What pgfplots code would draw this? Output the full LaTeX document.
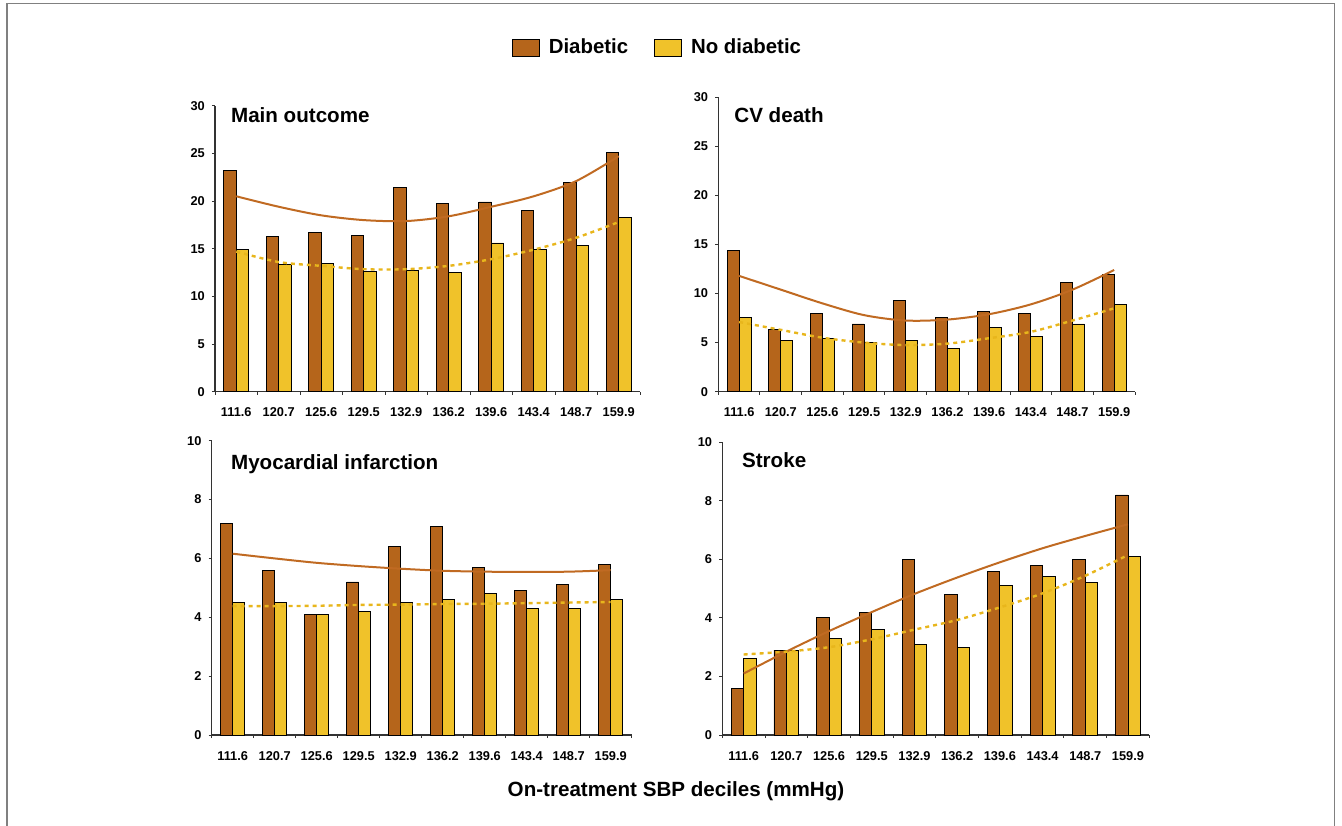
\documentclass[border=0pt]{standalone}
\usepackage{fontspec}
\setmainfont{Liberation Sans}
\usepackage{pgfplots}
\pgfplotsset{compat=1.18}
\definecolor{diab}{HTML}{B5651B}
\definecolor{nodiab}{HTML}{F0C22A}
\definecolor{diabline}{HTML}{C06A22}
\definecolor{nodiabline}{HTML}{E8B61C}
\definecolor{axgray}{HTML}{333333}

\pgfplotsset{
  panel/.style={
    scale only axis,
    anchor=south west,
    axis x line=bottom, axis y line=left,
    axis line style={-, axgray, line width=0.6pt},
    xmin=0.5, xmax=10.5, ymin=0,
    clip=false,
    tick align=outside,
    major tick length=1.6pt,
    tick style={axgray, line width=0.5pt},
    xtick={0.5,1.5,...,10.5},
    xticklabels={},
    extra x ticks={1,2,...,10},
    extra x tick labels={111.6,120.7,125.6,129.5,132.9,136.2,139.6,143.4,148.7,159.9},
    extra x tick style={major tick length=0pt, xticklabel style={yshift=-4.6pt}},
    ticklabel style={font=\bfseries\fontsize{6.4}{7}\selectfont, text=black},
    /pgf/number format/assume math mode=true,
  },
  diabbar/.style={ybar, bar width=0.29, bar shift=-0.145, fill=diab, draw=black, line width=0.45pt,
    legend image code/.code={\draw[fill=diab,draw=black,line width=0.45pt] (0pt,-4.25pt) rectangle (13.5pt,4.25pt);}},
  nodiabbar/.style={ybar, bar width=0.29, bar shift=0.145, fill=nodiab, draw=black, line width=0.45pt,
    legend image code/.code={\draw[fill=nodiab,draw=black,line width=0.45pt] (0pt,-4.25pt) rectangle (13.5pt,4.25pt);}},
  diabfit/.style={smooth, diabline, line width=1pt, forget plot},
  nodiabfit/.style={smooth, nodiabline, line width=1.2pt, dash pattern=on 2pt off 2pt, forget plot},
}

\begin{document}
\begin{tikzpicture}[x=0.5pt,y=0.5pt]
\useasboundingbox (0,0) rectangle (1342,825);
\draw[gray, line width=0.6pt] (7,-2) -- (7,821.5) -- (1334.5,821.5) -- (1334.5,-2);

% Panel 1: Main outcome
\begin{axis}[panel, at={(107.5pt,216.65pt)}, width=212.5pt, height=143pt,
  ymax=30, ytick={0,5,...,30},
  legend columns=2,
  legend style={at={(1.0435,1.2035)}, anchor=center, draw=none, fill=none,
    font=\bfseries\fontsize{10.2}{12}\selectfont,
    /tikz/every even column/.append style={column sep=11pt}},
]
\addplot[diabbar] coordinates {(1,23.2) (2,16.3) (3,16.7) (4,16.4) (5,21.4) (6,19.7) (7,19.9) (8,19.0) (9,21.9) (10,25.1)};
\addlegendentry{\hspace{2.5pt}Diabetic}
\addplot[nodiabbar] coordinates {(1,14.9) (2,13.3) (3,13.5) (4,12.6) (5,12.7) (6,12.5) (7,15.6) (8,14.9) (9,15.3) (10,18.3)};
\addlegendentry{\hspace{2.5pt}No diabetic}
\addplot[diabfit] coordinates {(1,20.5) (2,19.4) (3,18.5) (4,18.0) (5,17.9) (6,18.4) (7,19.4) (8,20.5) (9,22.1) (10,24.7)};
\addplot[nodiabfit] coordinates {(1,14.7) (2,13.6) (3,13.2) (4,12.85) (5,12.85) (6,13.2) (7,13.9) (8,14.9) (9,16.15) (10,17.8)};
\end{axis}

% Panel 2: CV death
\begin{axis}[panel, at={(359.15pt,216.65pt)}, width=208.35pt, height=147.2pt,
  ymax=30, ytick={0,5,...,30}]
\addplot[diabbar] coordinates {(1,14.4) (2,6.3) (3,8.0) (4,6.9) (5,9.3) (6,7.6) (7,8.2) (8,8.0) (9,11.1) (10,11.9)};
\addplot[nodiabbar] coordinates {(1,7.6) (2,5.2) (3,5.4) (4,5.0) (5,5.2) (6,4.4) (7,6.5) (8,5.6) (9,6.9) (10,8.9)};
\addplot[diabfit] coordinates {(1,11.8) (2,10.4) (3,9.0) (4,7.8) (5,7.25) (6,7.35) (7,7.9) (8,8.9) (9,10.4) (10,12.4)};
\addplot[nodiabfit] coordinates {(1,7.1) (2,6.3) (3,5.5) (4,5.0) (5,4.75) (6,4.9) (7,5.45) (8,6.1) (9,7.25) (10,8.5)};
\end{axis}

% Panel 3: Myocardial infarction
\begin{axis}[panel, at={(105.85pt,45pt)}, width=210pt, height=147.15pt,
  ymax=10, ytick={0,2,...,10}]
\addplot[diabbar] coordinates {(1,7.2) (2,5.6) (3,4.1) (4,5.2) (5,6.4) (6,7.1) (7,5.7) (8,4.9) (9,5.1) (10,5.8)};
\addplot[nodiabbar] coordinates {(1,4.5) (2,4.5) (3,4.1) (4,4.2) (5,4.5) (6,4.6) (7,4.8) (8,4.3) (9,4.3) (10,4.6)};
\addplot[diabfit] coordinates {(1,6.16) (2,6.0) (3,5.85) (4,5.74) (5,5.65) (6,5.58) (7,5.55) (8,5.54) (9,5.55) (10,5.6)};
\addplot[nodiabfit] coordinates {(1,4.38) (2,4.38) (3,4.39) (4,4.42) (5,4.43) (6,4.45) (7,4.46) (8,4.48) (9,4.5) (10,4.52)};
\end{axis}

% Panel 4: Stroke
\begin{axis}[panel, at={(361.15pt,45pt)}, width=213.5pt, height=146.35pt,
  ymax=10, ytick={0,2,...,10}]
\addplot[diabbar] coordinates {(1,1.6) (2,2.9) (3,4.0) (4,4.2) (5,6.0) (6,4.8) (7,5.6) (8,5.8) (9,6.0) (10,8.2)};
\addplot[nodiabbar] coordinates {(1,2.6) (2,2.9) (3,3.3) (4,3.6) (5,3.1) (6,3.0) (7,5.1) (8,5.4) (9,5.2) (10,6.1)};
\addplot[diabfit] coordinates {(1,2.1) (2,2.85) (3,3.55) (4,4.2) (5,4.82) (6,5.38) (7,5.9) (8,6.38) (9,6.8) (10,7.2)};
\addplot[nodiabfit] coordinates {(1,2.75) (2,2.85) (3,3.0) (4,3.27) (5,3.6) (6,3.93) (7,4.36) (8,4.84) (9,5.44) (10,6.15)};
\end{axis}

\begin{scope}[every node/.style={font=\bfseries\fontsize{10.3}{12}\selectfont, inner sep=0pt}]
\node[anchor=base west] at (230.7,702.7) {Main outcome};
\node[anchor=base west] at (734,702.7) {CV death};
\node[anchor=base west] at (230.7,356) {Myocardial infarction};
\node[anchor=base west] at (741.7,357.7) {Stroke};
\node[anchor=base] at (676,29) {On-treatment SBP deciles (mmHg)};
\end{scope}
\end{tikzpicture}
\end{document}
